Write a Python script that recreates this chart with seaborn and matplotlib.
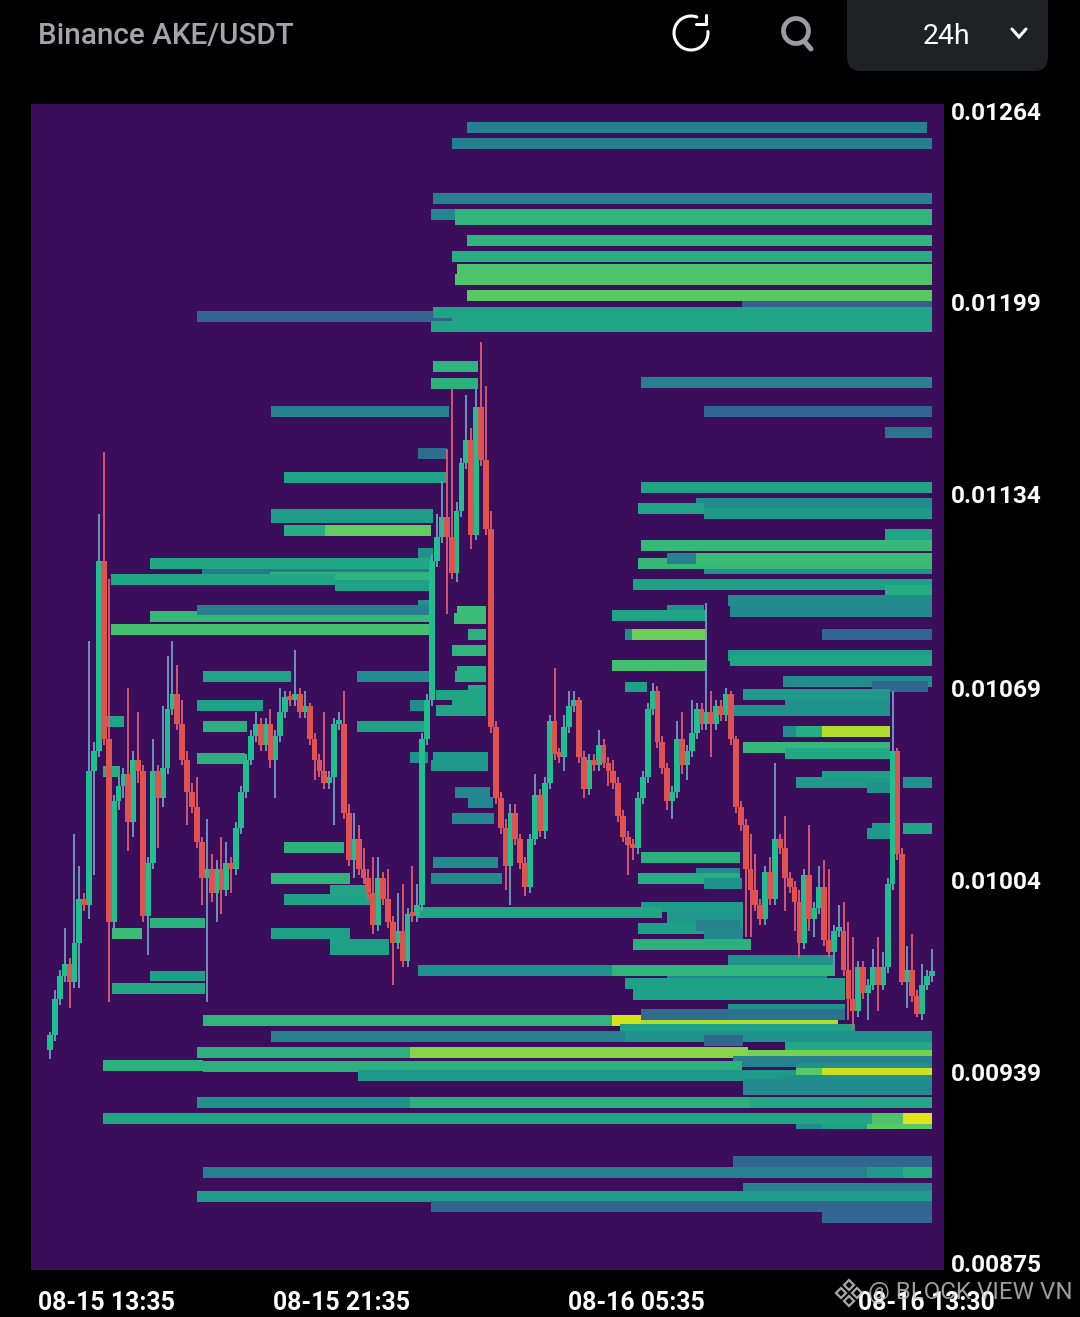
import numpy as np
import matplotlib
matplotlib.use("Agg")
import matplotlib.pyplot as plt
from matplotlib.patches import FancyBboxPatch, Circle, Polygon
from matplotlib.transforms import ScaledTranslation
import seaborn as sns

# ---------- data (prices in 1e-5 USDT, time in minutes after 08-15 13:30) ----------
closes = [952,964,972,976,970,983,998,996,1041,1048,
          1112,1052,990,1031,1036,1040,1024,1045,1041,992,
          1010,1041,1032,1042,1062,1067,1057,1045,1034,1029,
          1017,1005,1008,1000,1008,1001,1010,1008,1022,1034,
          1045,1053,1057,1050,1057,1045,1053,1061,1066,1065,
          1067,1061,1063,1052,1045,1041,1037,1039,1057,1057,
          1027,1011,1018,1008,1005,1000,989,1005,998,990,
          983,987,977,993,992,996,1052,1065,1112,1120,
          1127,1120,1108,1129,1145,1153,1121,1164,1146,1123,
          1056,1032,1022,1009,1027,1018,1010,1002,1018,1033,
          1021,1037,1058,1047,1046,1056,1063,1065,1046,1035,
          1045,1043,1050,1044,1041,1037,1026,1019,1016,1015,
          1032,1039,1062,1068,1051,1042,1031,1034,1052,1043,
          1048,1054,1062,1057,1061,1057,1063,1060,1067,1052,
          1029,1023,1008,1001,996,991,1007,998,1018,1015,
          1005,1002,997,983,1006,991,995,1002,984,980,
          987,987,974,964,960,975,966,969,975,969,
          975,1003,1048,1013,970,974,965,959,969,972,973]
first_open = 947
upper_wick = [1,3,2,12,2,37,11,2,44,3,
              16,37,54,2,3,2,29,3,16,2,
              2,11,2,21,18,18,10,8,3,3,
              10,2,17,5,3,11,7,2,2,2,
              2,2,4,2,2,5,2,8,2,2,
              15,2,5,1,2,2,20,2,2,4,
              11,3,9,5,7,3,12,7,2,10,
              2,13,16,2,16,7,2,2,2,8,
              12,23,50,3,2,15,4,6,22,25,
              6,2,2,3,3,3,2,2,2,7,
              2,2,2,18,2,4,5,3,1,2,
              2,2,5,2,2,4,2,2,2,2,
              2,2,2,3,2,2,2,2,6,9,
              2,11,2,2,37,7,2,2,2,1,
              1,2,2,12,12,2,2,5,26,2,
              11,2,2,4,2,17,2,7,9,24,
              2,9,10,16,21,2,2,2,6,10,
              5,2,20,1,2,8,12,2,7,2,8]
lower_wick = [3,2,2,2,9,2,15,2,5,35,
              2,2,27,3,3,4,10,5,4,2,
              13,2,17,3,2,2,2,2,11,2,
              2,9,42,3,10,8,2,8,2,2,
              2,2,2,2,2,3,13,2,2,2,
              2,2,2,2,7,2,2,2,16,2,
              2,2,6,2,2,2,3,2,2,2,
              14,2,2,2,2,2,2,2,2,2,
              2,26,2,3,2,2,5,2,2,2,
              2,2,2,8,13,2,2,3,2,2,
              2,3,2,2,2,5,2,2,2,3,
              2,2,2,2,5,2,2,2,10,4,
              2,2,2,2,2,2,3,6,2,3,
              5,2,2,2,2,11,2,2,2,2,
              2,2,23,16,2,2,2,2,2,2,
              11,2,10,5,2,4,6,2,2,2,
              8,2,2,7,6,2,2,9,2,9,
              2,2,2,2,1,9,2,1,2,2,2]
candle_minutes = 8

liq_price = [1258.4,1253.0,1234.5,1229.0,1229.0,1227.4,1220.3,1214.9,1210.5,1207.1,
             1199.5,1201.7,1194.6,1196.1,1192.7,1191.1,1177.6,1172.1,1172.3,1162.5,
             1162.5,1155.4,1148.5,1140.4,1136.9,1131.6,1129.8,1128.1,1127.9,1126.6,
             1122.5,1122.5,1121.0,1117.3,1114.7,1109.5,1111.2,1113.0,1113.0,1108.0,
             1111.2,1106.6,1105.9,1103.9,1104.1,1102.2,1098.7,1097.2,1095.1,1095.5,
             1093.3,1095.5,1093.5,1088.9,1087.2,1087.2,1087.2,1095.0,1092.6,1087.2,
             1081.8,1080.1,1078.4,1076.7,1074.9,1072.9,1072.9,1071.3,1069.6,1069.5,
             1068.3,1066.9,1066.8,1064.8,1063.2,1063.2,1061.5,1061.5,1057.8,1056.1,
             1054.5,1054.5,1054.5,1049.1,1047.2,1045.7,1043.0,1045.7,1041.1,1039.3,
             1037.4,1037.4,1035.7,1034.0,1030.5,1025.1,1021.7,1021.7,1020.0,1072.9,
             1063.2,1056.1,1045.5,989.8,986.2,971.9,967.7,1015.4,1004.8,997.7,
             1000.9,986.2,982.7,980.7,1010.2,1004.8,1011.9,1006.5,1004.8,1003.0,
             995.2,993.3,991.5,987.9,989.0,986.4,982.5,977.1,975.6,973.7,
             973.6,970.2,969.4,965.8,960.6,956.9,956.9,956.9,958.9,958.9,
             954.0,951.5,951.6,950.0,947.7,946.2,946.2,945.0,942.9,941.8,
             941.2,938.3,940.5,939.1,939.1,936.5,935.1,933.4,929.3,929.3,
             929.3,922.2,922.2,922.2,923.9,923.9,923.9,909.1,905.5,905.5,
             905.5,900.1,897.4,893.9,890.3]
liq_start = [681,656,625,622,661,661,681,656,665,661,
             1130,681,240,625,656,622,625,622,965,361,
             1068,1363,601,382,965,1055,960,1068,361,361,
             382,449,1363,965,601,1068,960,1007,1055,248,
             163,359,100,465,952,1363,1107,601,1110,1007,
             163,240,918,100,939,950,1260,665,660,682,
             656,1107,1110,918,665,661,501,1197,1342,939,
             682,1131,630,656,1200,588,1115,630,87,501,
             1197,1218,1260,1131,1200,625,622,588,87,1260,
             1218,1393,1334,661,682,656,1393,1342,1334,250,
             240,250,240,163,101,163,101,382,361,382,
             457,361,457,457,625,622,965,1055,960,1068,
             965,601,1007,960,1055,1068,952,1107,1107,918,
             601,1007,939,952,1107,918,965,250,965,1107,
             931,361,939,1068,1200,240,588,1140,1115,87,
             250,503,1218,1218,1260,1197,1131,1131,240,588,
             1141,1218,1260,1334,87,1342,1393,1115,250,1334,
             1393,1131,240,622,1260]
liq_end = [1432,1440,1440,669,1440,1440,1440,1440,1440,1440,
           1440,1440,656,1440,1440,1440,699,699,1440,651,
           1440,1440,648,648,1440,1440,1068,1440,625,625,
           449,622,1440,1440,625,1440,1440,1055,1440,622,
           622,622,465,622,1440,1440,1440,622,1440,1068,
           622,622,1073,622,950,1073,1440,712,712,712,
           712,1440,1440,1073,712,712,622,1440,1434,975,
           712,1371,712,712,1371,617,1371,712,121,617,
           1218,1260,1371,1371,1371,715,715,617,114,1371,
           1371,1440,1371,718,723,725,1440,1371,1371,393,
           348,322,318,253,150,253,253,480,490,522,
           519,490,553,553,731,738,1127,1127,1127,1130,
           1131,1000,1131,1131,1127,1131,1145,1278,1278,1278,
           918,1269,1298,1298,1298,965,1287,918,1107,1298,
           1314,939,1440,1131,1440,588,1140,1440,1440,250,
           1130,1218,1440,1260,1440,1440,1440,1440,588,1141,
           1440,1260,1334,1440,1342,1393,1440,1440,1334,1393,
           1440,1440,1440,1440,1440]
liq_value = [.43,.43,.43,.46,.65,.65,.65,.62,.72,.72,
             .30,.74,.32,.58,.58,.58,.65,.64,.43,.43,
             .33,.38,.35,.58,.58,.48,.58,.54,.55,.55,
             .62,.76,.58,.67,.51,.51,.67,.43,.68,.41,
             .59,.65,.59,.57,.57,.62,.48,.51,.46,.51,
             .67,.43,.58,.70,.49,.78,.33,.68,.68,.64,
             .65,.55,.59,.70,.62,.62,.48,.48,.33,.57,
             .60,.54,.59,.59,.51,.48,.51,.59,.58,.57,
             .49,.62,.88,.67,.60,.54,.54,.51,.62,.57,
             .54,.51,.51,.46,.46,.46,.59,.54,.54,.58,
             .57,.64,.64,.64,.68,.57,.60,.64,.65,.57,
             .59,.57,.57,.57,.48,.48,.64,.48,.62,.51,
             .55,.59,.54,.57,.43,.46,.64,.51,.51,.65,
             .51,.46,.57,.57,.51,.93,.88,.65,.35,.38,
             .57,.43,.51,.33,.60,.64,.82,.79,.43,.64,
             .64,.54,.51,.74,.92,.49,.48,.47,.51,.64,
             .60,.48,.57,.74,.59,.72,.95,.33,.43,.54,
             .62,.43,.55,.33,.33]
liq_bin = 3.7

price_ticks = [1264, 1199.6, 1134.7, 1069.2, 1004.3, 939.5, 875]
price_labels = ["0.01264", "0.01199", "0.01134", "0.01069", "0.01004", "0.00939", "0.00875"]
time_ticks = [5, 485, 965, 1440]
time_labels = ["08-15 13:35", "08-15 21:35", "08-16 05:35", "08-16 13:30"]

# ---------- style ----------
sns.set_theme(style="dark")
BG = "#3a0e5a"
UP, DOWN = "#1fbf8f", "#e0524f"
UP_WICK, DOWN_WICK = "#6f9fc0", "#e25a72"
FONT = "Roboto"
plt.rcParams["font.family"] = [FONT, "DejaVu Sans"]
viridis = sns.color_palette("viridis", as_cmap=True)

W, H = 1080, 1317
fig = plt.figure(figsize=(W / 100, H / 100), dpi=100, facecolor="black")
ax = fig.add_axes([31 / W, 1 - 1270 / H, 913 / W, 1166 / H], facecolor=BG)
scale = 1e-5

# ---------- liquidation bands ----------
for p, s, e, v in zip(liq_price, liq_start, liq_end, liq_value, strict=True):
    ax.barh(p * scale, e - s, left=s, height=liq_bin * scale, color=viridis(v), linewidth=0, zorder=2)

# ---------- candles ----------
c = np.array(closes, float)
o = np.r_[first_open, c[:-1]]
hi = np.maximum(o, c) + np.array(upper_wick, float)
lo = np.minimum(o, c) - np.array(lower_wick, float)
t = np.arange(len(c)) * candle_minutes
up = c >= o
ax.vlines(t[up], lo[up] * scale, hi[up] * scale, color=UP_WICK, lw=1.3, zorder=3)
ax.vlines(t[~up], lo[~up] * scale, hi[~up] * scale, color=DOWN_WICK, lw=1.3, zorder=3)
body_h = np.maximum(np.abs(c - o), 1.5)
body_b = np.minimum(o, c)
ax.bar(t[up], body_h[up] * scale, bottom=body_b[up] * scale, width=9.5, color=UP, linewidth=0, zorder=4)
ax.bar(t[~up], body_h[~up] * scale, bottom=body_b[~up] * scale, width=9.5, color=DOWN, linewidth=0, zorder=4)

# ---------- axes ----------
ax.set_xlim(-31, 1460)
ax.set_ylim(872.6 * scale, 1266.4 * scale)
ax.grid(False)
sns.despine(ax=ax, left=True, bottom=True, right=True, top=True)
ax.yaxis.tick_right()
ax.set_yticks([v * scale for v in price_ticks], price_labels)
ax.set_xticks(time_ticks, time_labels)
ax.tick_params(axis="y", length=0, pad=5, labelcolor="white")
ax.tick_params(axis="x", length=0, pad=15, labelcolor="white")
for lab in ax.get_yticklabels():
    lab.set_fontsize(17.6)
    lab.set_fontweight("bold")
for i, lab in enumerate(ax.get_xticklabels()):
    lab.set_fontsize(17.9)
    lab.set_fontweight("bold")
    if i == 0:
        lab.set_ha("left")
        lab.set_transform(lab.get_transform() + ScaledTranslation(-15 / 100, 0, fig.dpi_scale_trans))
    else:
        lab.set_transform(lab.get_transform() + ScaledTranslation(-5 / 100, 0, fig.dpi_scale_trans))

# ---------- app chrome ----------
ui = fig.add_axes([0, 0, 1, 1], facecolor="none", zorder=10)
ui.set_xlim(0, W)
ui.set_ylim(H, 0)
ui.axis("off")
ui.text(38, 36, "Binance AKE/USDT", color="#a3a3a8", fontsize=21.4, fontweight="medium", va="center", ha="left")
ui.add_patch(FancyBboxPatch((847, -30), 201, 101, boxstyle="round,pad=0,rounding_size=14",
                            fc="#1f2124", ec="none", lw=0))
ui.text(947, 36, "24h", color="white", fontsize=20.5, va="center", ha="center")
ui.plot([1012, 1019, 1026], [29, 37, 29], color="white", lw=2.2, solid_capstyle="round", solid_joinstyle="miter")
# refresh icon
ang = np.radians(np.linspace(-5, 290, 60))
ui.plot(691 + 17 * np.cos(ang), 33 + 17 * np.sin(ang), color="white", lw=2.2)
ui.plot([706, 706, 696], [15, 24, 24], color="white", lw=2.2)
# search icon
ui.add_patch(Circle((796, 31), 12.5, fc="none", ec="#9a9ca6", lw=3.4))
ui.plot([804, 811], [41, 49], color="#9a9ca6", lw=3.6, solid_capstyle="round")
# watermark
for cx, cy in [(849, 1285), (841, 1293), (857, 1293), (849, 1301)]:
    ui.add_patch(Polygon([(cx, cy - 5), (cx + 5, cy), (cx, cy + 5), (cx - 5, cy)], fc="none", ec="#c8c8c8", lw=1.6, alpha=.85))
ui.text(868, 1293, "@ BLOCK VIEW VN", color="#c4c4c4", alpha=.8, fontsize=17.4, va="center", ha="left")

fig.savefig("out.png", dpi=100, facecolor="black")
